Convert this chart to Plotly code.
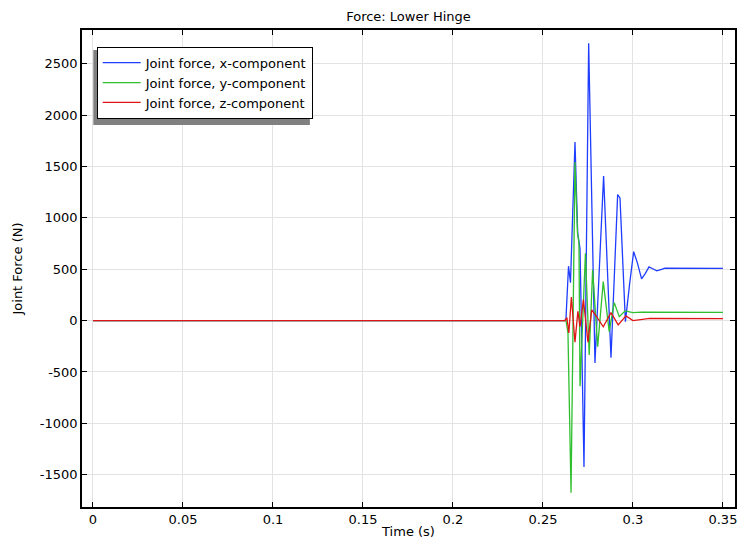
import plotly.graph_objects as go

# Time values in seconds
t_x = [0.0, 0.2600, 0.2622, 0.2628, 0.2642, 0.2653, 0.2678, 0.2693, 0.2706, 0.2728, 0.2754,
       0.2789, 0.2837, 0.2878, 0.2915, 0.2928, 0.2958, 0.2981, 0.3004, 0.3025, 0.3048,
       0.3069, 0.3089, 0.3110, 0.3132, 0.3155, 0.3178, 0.35]
fx = [0, 0, 0, 20, 530, 370, 1740, 854, 700, -1425, 2700,
      -412, 1409, -362, 1227, 1195, -10, 350, 672, 560, 406,
      460, 523, 505, 484, 497, 510, 508]

t_y = [0.0, 0.2600, 0.2628, 0.2639, 0.2656, 0.2678, 0.2692, 0.2700, 0.2706, 0.2736, 0.2757,
       0.2776, 0.2804, 0.2835, 0.2868, 0.2896, 0.2924, 0.2956, 0.3000, 0.3050, 0.35]
fy = [0, 0, 0, -120, -1675, 1545, 850, 760, -640, 655, -334,
      494, -253, 380, -107, 175, 39, 94, 78, 82, 80]

t_z = [0.0, 0.2600, 0.2622, 0.2633, 0.2644, 0.2658, 0.2678, 0.2694, 0.2706, 0.2725, 0.2750,
       0.2771, 0.2798, 0.2835, 0.2878, 0.2918, 0.2961, 0.3000, 0.3048, 0.3094, 0.35]
fz = [0, 0, 0, 30, -120, 230, -210, 90, -60, 205, -210,
      104, 40, -60, 78, -42, 46, 0, 14, 22, 20]

series_names = ["Joint force, x-component", "Joint force, y-component", "Joint force, z-component"]
series_colors = ["#1f3dff", "#2fbf2f", "#e01414"]

x_ticks = [0, 0.05, 0.1, 0.15, 0.2, 0.25, 0.3, 0.35]
x_tick_labels = ["0", "0.05", "0.1", "0.15", "0.2", "0.25", "0.3", "0.35"]
y_ticks = [-1500, -1000, -500, 0, 500, 1000, 1500, 2000, 2500]
y_tick_labels = ["-1500", "-1000", "-500", "0", "500", "1000", "1500", "2000", "2500"]

FONT = "DejaVu Sans, Liberation Sans, sans-serif"
FS = 13

fig = go.Figure()
for tt, ff, name, col in zip([t_x, t_y, t_z], [fx, fy, fz], series_names, series_colors):
    fig.add_trace(go.Scatter(x=tt, y=ff, mode="lines", name=name,
                             line=dict(color=col, width=1.3)))

axis_common = dict(
    showline=True, linecolor="black", linewidth=1.5, mirror="ticks",
    ticks="inside", ticklen=5, tickcolor="black", tickwidth=1,
    showgrid=True, gridcolor="#e3e3e3", gridwidth=1, zeroline=False,
    tickfont=dict(family=FONT, size=FS, color="black"),
)

fig.update_layout(
    width=739, height=542,
    margin=dict(l=82, r=4, t=30, b=35),
    paper_bgcolor="white", plot_bgcolor="white",
    font=dict(family=FONT, size=FS, color="black"),
    title=dict(text="Force: Lower Hinge", x=0.5, xref="paper", y=1 - 16 / 542,
               yanchor="middle", xanchor="center",
               font=dict(family=FONT, size=FS, color="black")),
    xaxis=dict(range=[-0.0061, 0.3567], tickvals=x_ticks, ticktext=x_tick_labels,
               title=dict(text="Time (s)", standoff=1, font=dict(family=FONT, size=FS)),
               automargin=False, **axis_common),
    yaxis=dict(range=[-1815, 2830], tickvals=y_ticks, ticktext=y_tick_labels,
               title=dict(text="Joint Force (N)", standoff=14, font=dict(family=FONT, size=FS)),
               automargin=False, **axis_common),
    legend=dict(x=0.0225, y=0.965, xanchor="left", yanchor="top",
                bgcolor="white", bordercolor="black", borderwidth=1,
                font=dict(family=FONT, size=FS, color="black"),
                itemwidth=38),
    showlegend=True,
    shapes=[dict(type="rect", xref="paper", yref="paper",
                 x0=0.0173, x1=0.349, y0=0.801, y1=0.958,
                 fillcolor="#808080", line=dict(width=0), layer="above")],
)

fig.write_html("out.html", config={"displayModeBar": False},
               post_script="document.body.style.margin='0';")
